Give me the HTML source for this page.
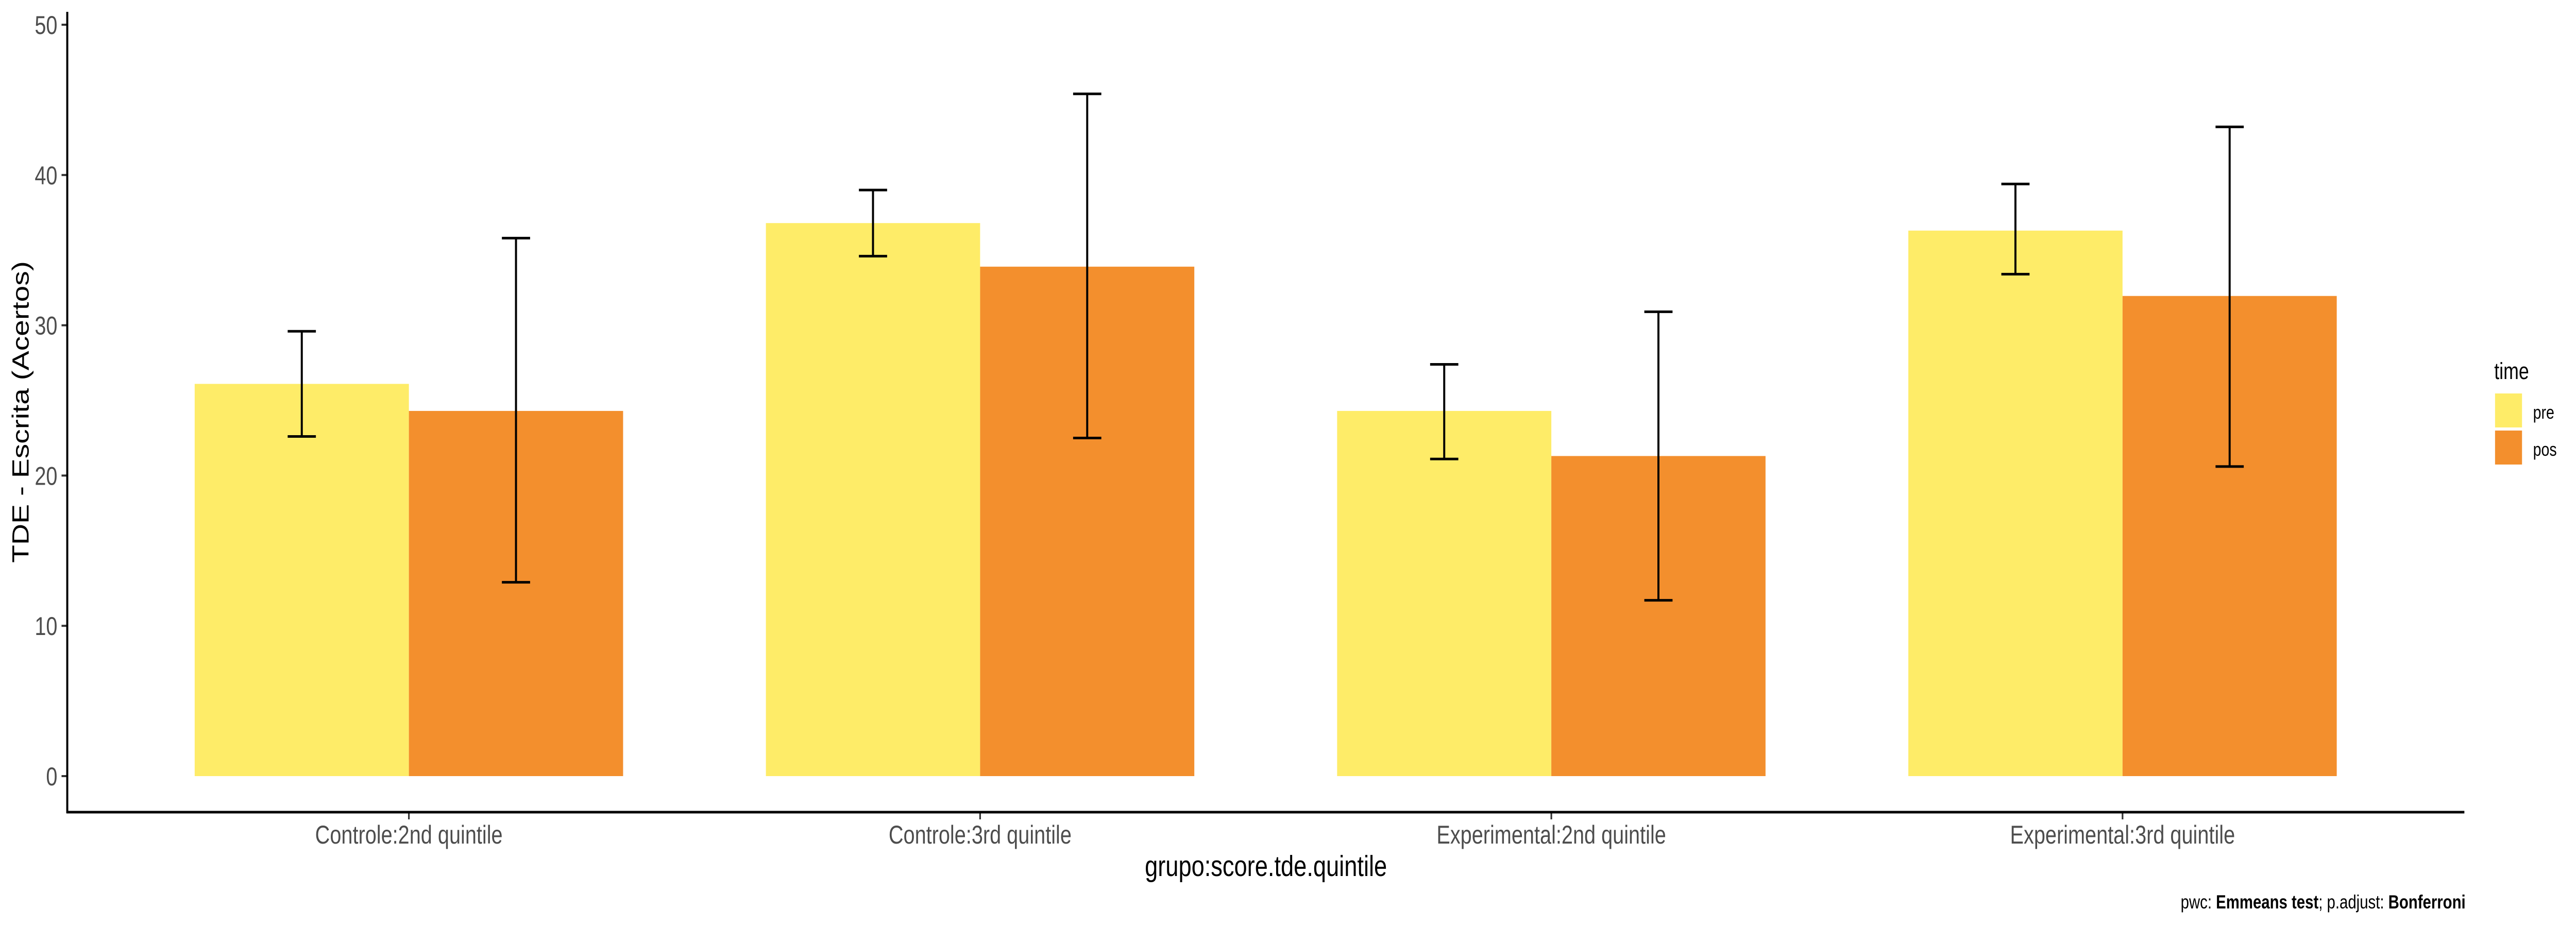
<!DOCTYPE html>
<html><head><meta charset="utf-8"><style>
html,body{margin:0;padding:0;background:#fff;width:100%;height:100%;overflow:hidden;}
svg{display:block;width:100vw;height:100vh;font-family:"Liberation Sans",Arial,sans-serif;}
</style></head><body>
<svg id="chart" viewBox="0 0 6300 1800" preserveAspectRatio="none" xmlns="http://www.w3.org/2000/svg">
<g id="bars"></g>
<g id="errs"></g>
<g id="axes"></g>
<text x="3096" y="1701" font-size="57" text-anchor="middle" fill="#000">grupo:score.tde.quintile</text>
<text transform="translate(70,800) rotate(-90)" font-size="57" text-anchor="middle" fill="#000">TDE - Escrita (Acertos)</text>
<g>
<text x="6100" y="736" font-size="45" fill="#000">time</text>
<rect x="6102" y="764" width="66" height="66" fill="#FEEC68"/>
<text x="6195" y="813" font-size="36" fill="#000">pre</text>
<rect x="6102" y="836" width="66" height="66" fill="#F38F2D"/>
<text x="6195" y="885" font-size="36" fill="#000">pos</text>
</g>
<text x="6030" y="1764" font-size="37" text-anchor="end" fill="#000">pwc: <tspan font-weight="bold">Emmeans test</tspan>; p.adjust: <tspan font-weight="bold">Bonferroni</tspan></text>
</svg>
<script>
const categories = ["Controle:2nd quintile","Controle:3rd quintile","Experimental:2nd quintile","Experimental:3rd quintile"];
const series = ["pre","pos"];
const preValues = [26.1, 36.8, 24.3, 36.3];
const posValues = [24.3, 33.9, 21.3, 31.95];
const preUpper = [29.6, 39.0, 27.4, 39.4];
const preLower = [22.6, 34.6, 21.1, 33.4];
const posUpper = [35.8, 45.4, 30.9, 43.2];
const posLower = [12.9, 22.5, 11.7, 20.6];
const yTicks = [0, 10, 20, 30, 40, 50];

const NS = "http://www.w3.org/2000/svg";
const colors = {pre:"#FEEC68", pos:"#F38F2D"};
const axisX = 164.5, axisYbottom = 1577, axisTop = 23, axisRight = 6027;
const unitPx = 1397, firstCenter = 1000;
function xScale(i){ return firstCenter + unitPx * i; }
function yScale(v){ return 1507 - v * 29.18; }
const barW = 0.375 * unitPx, capW = 69;

function mk(tag, attrs, parent){
  const el = document.createElementNS(NS, tag);
  for (const k in attrs) el.setAttribute(k, attrs[k]);
  parent.appendChild(el);
  return el;
}
const gBars = document.getElementById("bars");
const gErr = document.getElementById("errs");
const gAx = document.getElementById("axes");

categories.forEach((c, i) => {
  const cx = xScale(i);
  [["pre", preValues, preUpper, preLower, -1], ["pos", posValues, posUpper, posLower, 0]].forEach(([s, vals, up, lo, off]) => {
    const x0 = cx + off * barW;
    const r = mk("rect", {x: x0, y: yScale(vals[i]), width: barW, height: yScale(0) - yScale(vals[i]), fill: colors[s]}, gBars);
    
    
    const mx = x0 + barW / 2;
    const g = mk("g", {stroke: "#000", "stroke-width": 5, fill: "none"}, gErr);
    
    
    mk("line", {x1: mx, x2: mx, y1: yScale(up[i]), y2: yScale(lo[i])}, g);
    mk("line", {x1: mx - capW / 2, x2: mx + capW / 2, y1: yScale(up[i]), y2: yScale(up[i])}, g);
    mk("line", {x1: mx - capW / 2, x2: mx + capW / 2, y1: yScale(lo[i]), y2: yScale(lo[i])}, g);
  });
  const t = mk("line", {x1: cx, x2: cx, y1: axisYbottom, y2: axisYbottom + 14, stroke: "#333", "stroke-width": 4}, gAx);
  
  
  const lab = mk("text", {x: cx, y: 1638, "font-size": 50, "text-anchor": "middle", fill: "#4d4d4d"}, gAx);
  lab.textContent = c;
  
  
});

yTicks.forEach(v => {
  const y = yScale(v);
  const t = mk("line", {x1: axisX - 14, x2: axisX, y1: y, y2: y, stroke: "#333", "stroke-width": 4}, gAx);
  
  
  const lab = mk("text", {x: axisX - 24, y: y + 18, "font-size": 50, "text-anchor": "end", fill: "#4d4d4d"}, gAx);
  lab.textContent = v;
  
  
});

const ya = mk("line", {x1: axisX, x2: axisX, y1: axisTop, y2: axisYbottom + 2, stroke: "#000", "stroke-width": 5}, gAx);


const xa = mk("line", {x1: axisX - 2, x2: axisRight, y1: axisYbottom, y2: axisYbottom, stroke: "#000", "stroke-width": 5}, gAx);


</script>
</body></html>
